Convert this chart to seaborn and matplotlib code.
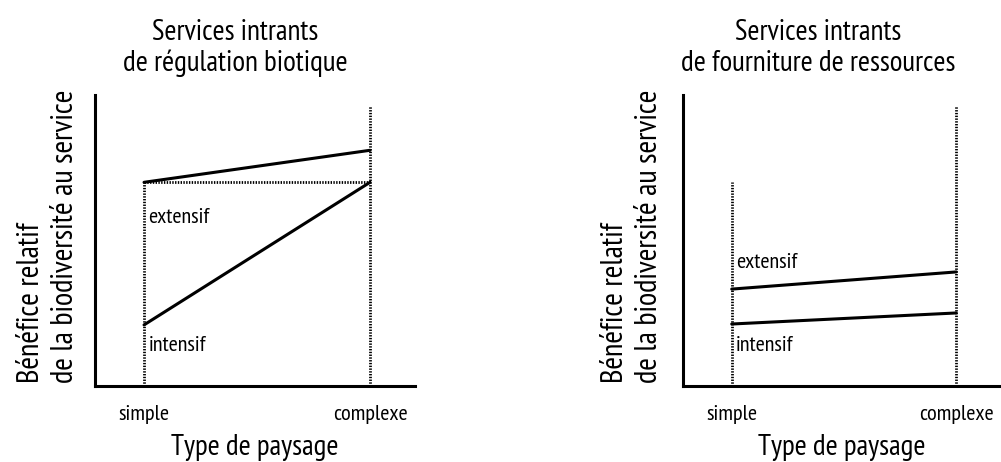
import matplotlib
matplotlib.use("Agg")
import matplotlib.pyplot as plt
import seaborn as sns
import pandas as pd

# Landscape categories and relative biodiversity benefit per farming mode
landscape = ["simple", "complexe"]
positions = [0.0, 1.0]

biotic_extensive = [0.70, 0.81]
biotic_intensive = [0.21, 0.70]

resource_extensive = [0.333, 0.392]
resource_intensive = [0.213, 0.251]

titles = ["Services intrants\nde régulation biotique",
          "Services intrants\nde fourniture de ressources"]
ylabel_text = "Bénéfice relatif\nde la biodiversité au service"
xlabel_text = "Type de paysage"

sns.set_style("white")
plt.rcParams["font.family"] = ["PT Sans Narrow", "DejaVu Sans"]
plt.rcParams["text.color"] = "black"
plt.rcParams["axes.labelcolor"] = "black"
plt.rcParams["xtick.color"] = "black"

W, H = 1001, 462
fig = plt.figure(figsize=(W / 100, H / 100), dpi=100)


def px_axes(x0, x1, y0, y1):
    return fig.add_axes([x0 / W, 1 - y1 / H, (x1 - x0) / W, (y1 - y0) / H])


ax_left = px_axes(95, 415, 95, 386)
ax_right = px_axes(683, 1001, 95, 386)

panels = [
    (ax_left, biotic_extensive, biotic_intensive, 0.58, 0.14, 0.70, 0.437),
    (ax_right, resource_extensive, resource_intensive, 0.426, 0.14, 0.70, 0.425),
]

for ax, ext, inten, ext_y, int_y, simple_top, title_x in panels:
    df = pd.DataFrame({
        "x": positions * 2,
        "y": ext + inten,
        "mode": ["extensif"] * 2 + ["intensif"] * 2,
    })
    sns.lineplot(data=df, x="x", y="y", units="mode", estimator=None,
                 color="black", linewidth=2.2, ax=ax, legend=False)

    dot = dict(color="black", linewidth=2.0, linestyle=(0, (0.5, 0.5)))
    ax.plot([0, 0], [0, simple_top], **dot)
    ax.plot([1, 1], [0, 0.962], **dot)
    if ax is ax_left:
        ax.plot([0, 1], [ext[0], ext[0]], **dot)

    ax.text(0.02, ext_y, "extensif", fontsize=16, va="center", ha="left")
    ax.text(0.02, int_y, "intensif", fontsize=16, va="center", ha="left")

    ax.set_xlim(-0.217, 1.199)
    ax.set_ylim(0, 1)
    ax.set_xticks(positions)
    ax.set_xticklabels(landscape, fontsize=16)
    ax.set_yticks([])
    ax.tick_params(axis="x", length=0, pad=14)
    ax.set_xlabel(xlabel_text, fontsize=21, labelpad=7)
    ax.set_ylabel("")

    for side in ["top", "right"]:
        ax.spines[side].set_visible(False)
    for side in ["left", "bottom"]:
        ax.spines[side].set_color("black")
        ax.spines[side].set_linewidth(2.2)

    ax.text(title_x, 1.0 + (95 - 48) / 291, titles[ax is ax_right],
            transform=ax.transAxes, ha="center", va="center",
            fontsize=21, linespacing=1.15)
    ax.text(-0.147 if ax is ax_left else -0.16, 0.01, ylabel_text,
            transform=ax.transAxes, rotation=90, ha="center", va="bottom",
            multialignment="left", fontsize=22, linespacing=1.3)

fig.savefig("out.png", dpi=100)
